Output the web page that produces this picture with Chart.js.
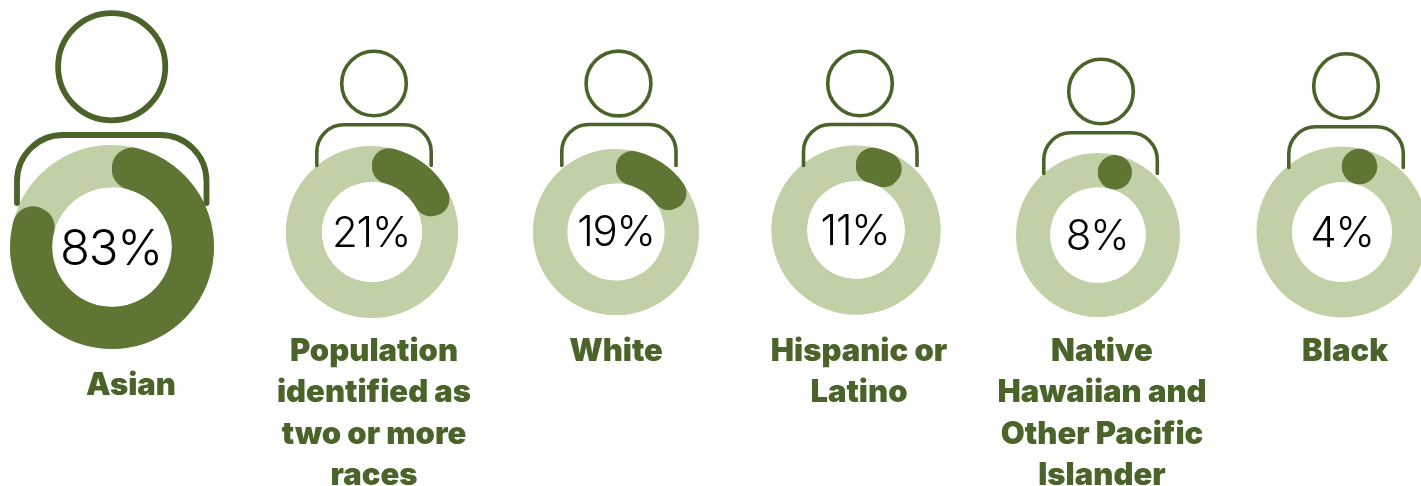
<!DOCTYPE html>
<html lang="en">
<head>
<meta charset="utf-8">
<title>Share of population by race and ethnicity</title>
<script src="https://cdn.jsdelivr.net/npm/chart.js@4"></script>
<style>
  html, body { margin: 0; padding: 0; background: #fff; }
  body { position: relative; width: 1421px; height: 486px; overflow: hidden; font-family: Inter, "Open Sans", sans-serif; }
  .ring { position: absolute; }
  .ring canvas { display: block; }
  .pct { position: absolute; transform: translate(-50%, -50%); color: #000; font-weight: 300; white-space: nowrap; line-height: 1; letter-spacing: -1.2px; }
  .name { position: absolute; transform: translateX(-50%); color: #4a6329; font-weight: 900; font-size: 31px; line-height: 41.4px; text-align: center; white-space: nowrap; }
  svg.people { position: absolute; left: 0; top: 0; }
</style>
</head>
<body>
<svg class="people" width="1421" height="486" xmlns="http://www.w3.org/2000/svg"></svg>
<script>
// Group names and the share of each group, in percent
const categories = [
  "Asian",
  "Population identified as two or more races",
  "White",
  "Hispanic or Latino",
  "Native Hawaiian and Other Pacific Islander",
  "Black"
];
const shares = [83, 21, 19, 11, 8, 4];

// Wrapped caption lines for each group
const captionLines = [
  ["Asian"],
  ["Population", "identified as", "two or more", "races"],
  ["White"],
  ["Hispanic or", "Latino"],
  ["Native", "Hawaiian and", "Other Pacific", "Islander"],
  ["Black"]
];

// Ring geometry: centre x, centre y, outer radius, inner radius
const ringLayout = [
  [112, 247, 102, 61],
  [372, 232, 86, 51.5],
  [616, 232, 83, 50],
  [856, 230, 84.5, 50.5],
  [1098, 235, 82, 49],
  [1342, 232, 85.5, 51.5]
];
// Percent label: centre x, centre y, font size
const pctLayout = [
  [111, 247, 49],
  [371, 232, 42],
  [616, 231, 42],
  [855, 230, 42],
  [1097, 235, 42],
  [1342, 232, 42]
];
// Person icon: head x, head y, head radius, shoulder left, right, top, bottom, corner radius, stroke
const personLayout = [
  [111.7, 66.7, 53.6, 17, 206.5, 135, 203, 46, 5.8],
  [374, 83.5, 32.3, 316.8, 431.2, 124.8, 165.5, 27, 3.6],
  [618.5, 83.5, 32.4, 561.8, 676, 124.5, 165.5, 27, 3.6],
  [860, 83.5, 32.3, 803.5, 917, 124.5, 165.5, 27, 3.6],
  [1101, 91.5, 32.3, 1043.8, 1157.3, 132.8, 173.5, 27, 3.6],
  [1346, 86, 32.3, 1288.8, 1403.3, 126.8, 167.5, 27, 3.6]
];
// Caption block: centre x, top y
const captionLayout = [
  [131, 363], [374, 329], [616, 329], [859, 329], [1102, 329], [1345, 329]
];

const DARK = "#5f7533";
const LIGHT = "#c1d0a7";
const STROKE = "#4a6329";

// Position and radius of the round cap at the start of a slice
function capOf(arc) {
  const half = (arc.outerRadius - arc.innerRadius) / 2;
  const mid = arc.outerRadius - half;
  const angle = arc.startAngle + half / mid;
  return {
    x: arc.x + Math.cos(angle) * mid,
    y: arc.y + Math.sin(angle) * mid,
    r: half,
    short: arc.endAngle - arc.startAngle <= 2 * half / mid + 0.02
  };
}

// Paints the full pale track below the slices, so it shows around the rounded ends
const ringTrack = {
  id: "ringTrack",
  beforeDatasetsDraw(chart) {
    const arc = chart.getDatasetMeta(0).data[0];
    const { ctx } = chart;
    ctx.save();
    ctx.fillStyle = LIGHT;
    ctx.beginPath();
    ctx.arc(arc.x, arc.y, arc.outerRadius, 0, Math.PI * 2);
    ctx.arc(arc.x, arc.y, arc.innerRadius, 0, Math.PI * 2, true);
    ctx.fill();
    ctx.restore();
  }
};

// A slice too short for two round ends is shown as a single whole dot at its start
const startCap = {
  id: "startCap",
  beforeDatasetDraw(chart) {
    const cap = capOf(chart.getDatasetMeta(0).data[0]);
    if (!cap.short) return;
    const { ctx } = chart;
    ctx.save();
    ctx.beginPath();
    ctx.arc(cap.x, cap.y, cap.r, 0, Math.PI * 2);
    ctx.clip();
  },
  afterDatasetDraw(chart) {
    if (capOf(chart.getDatasetMeta(0).data[0]).short) chart.ctx.restore();
  },
  afterDatasetsDraw(chart) {
    const cap = capOf(chart.getDatasetMeta(0).data[0]);
    if (!cap.short) return;
    const { ctx } = chart;
    ctx.save();
    ctx.fillStyle = DARK;
    ctx.beginPath();
    ctx.arc(cap.x, cap.y, cap.r, 0, Math.PI * 2);
    ctx.fill();
    ctx.restore();
  }
};

categories.forEach((name, i) => {
  const [cx, cy, outer, inner] = ringLayout[i];
  const size = Math.ceil(outer) * 2 + 4;

  const box = document.createElement("div");
  box.className = "ring";
  box.style.left = (cx - size / 2) + "px";
  box.style.top = (cy - size / 2) + "px";
  box.style.width = size + "px";
  box.style.height = size + "px";
  const canvas = document.createElement("canvas");
  box.appendChild(canvas);
  document.body.insertBefore(box, document.querySelector("svg.people"));

  new Chart(canvas, {
    type: "doughnut",
    data: {
      labels: [name, "Other"],
      datasets: [{
        data: [shares[i], 100 - shares[i]],
        backgroundColor: [DARK, LIGHT],
        borderWidth: 0,
        borderRadius: [(outer - inner) / 2, 0]
      }]
    },
    options: {
      responsive: true,
      maintainAspectRatio: false,
      animation: false,
      radius: outer,
      cutout: inner,
      events: [],
      plugins: { legend: { display: false }, tooltip: { enabled: false } }
    },
    plugins: [ringTrack, startCap]
  });

  const [px, py, pSize] = pctLayout[i];
  const pct = document.createElement("div");
  pct.className = "pct";
  pct.textContent = shares[i] + "%";
  pct.style.left = px + "px";
  pct.style.top = py + "px";
  pct.style.fontSize = pSize + "px";
  document.body.appendChild(pct);

  const [nx, ny] = captionLayout[i];
  const caption = document.createElement("div");
  caption.className = "name";
  caption.innerHTML = captionLines[i].join("<br>");
  caption.style.left = nx + "px";
  caption.style.top = ny + "px";
  document.body.appendChild(caption);
});

// Person outlines: a round head and an open shoulder arch above each ring
const svg = document.querySelector("svg.people");
const SVG_NS = "http://www.w3.org/2000/svg";
personLayout.forEach(([hx, hy, hr, l, r, t, b, c, w]) => {
  const head = document.createElementNS(SVG_NS, "circle");
  head.setAttribute("cx", hx);
  head.setAttribute("cy", hy);
  head.setAttribute("r", hr);
  const body = document.createElementNS(SVG_NS, "path");
  body.setAttribute("d", `M${l} ${b} V${t + c} A${c} ${c} 0 0 1 ${l + c} ${t} H${r - c} A${c} ${c} 0 0 1 ${r} ${t + c} V${b}`);
  body.setAttribute("stroke-linecap", "round");
  [head, body].forEach(el => {
    el.setAttribute("fill", "none");
    el.setAttribute("stroke", STROKE);
    el.setAttribute("stroke-width", w);
    svg.appendChild(el);
  });
});
</script>
</body>
</html>
